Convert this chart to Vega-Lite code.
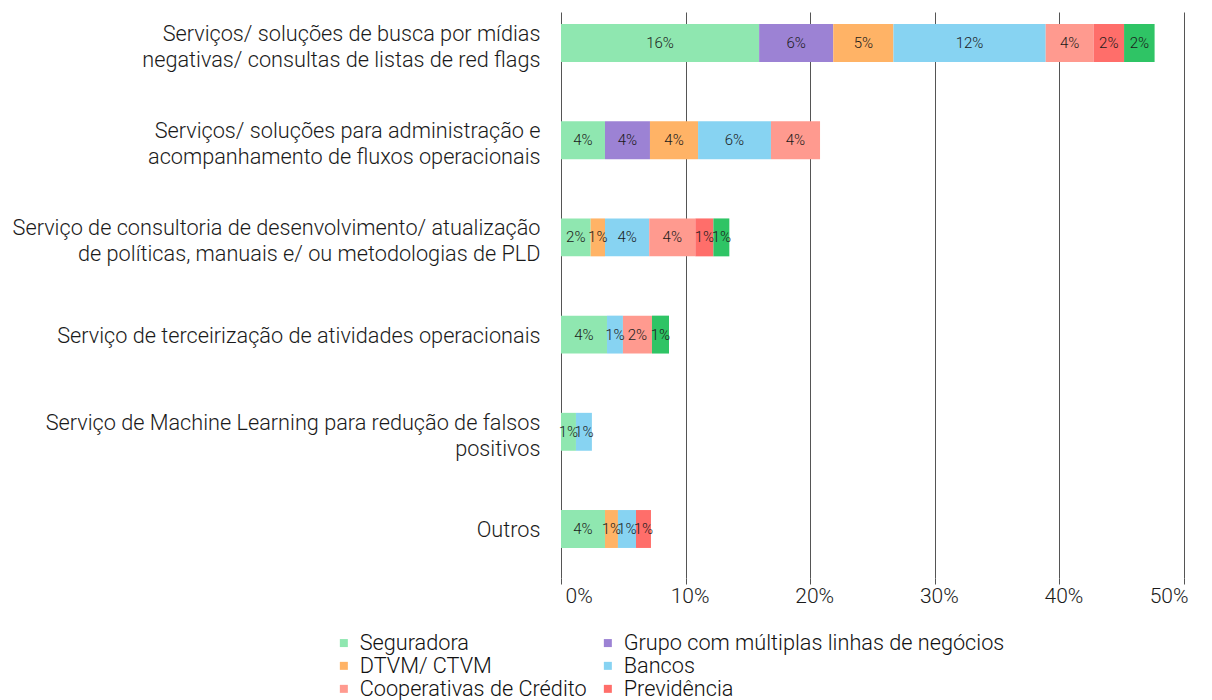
{
  "$schema": "https://vega.github.io/schema/vega-lite/v6.json",
  "width": 623,
  "height": 566,
  "autosize": {"type": "none"},
  "padding": {"left": 561, "top": 12, "right": 28, "bottom": 122},
  "background": "white",
  "config": {
    "view": {"stroke": null},
    "font": "Roboto",
    "text": {"font": "Roboto"}
  },
  "data": {
    "values": [
      {"c": "Serviços/ soluções de busca por mídias|negativas/ consultas de listas de red flags", "s": "Seguradora", "v": 0.159},
      {"c": "Serviços/ soluções de busca por mídias|negativas/ consultas de listas de red flags", "s": "Grupo com múltiplas linhas de negócios", "v": 0.0595},
      {"c": "Serviços/ soluções de busca por mídias|negativas/ consultas de listas de red flags", "s": "DTVM/ CTVM", "v": 0.0483},
      {"c": "Serviços/ soluções de busca por mídias|negativas/ consultas de listas de red flags", "s": "Bancos", "v": 0.1222},
      {"c": "Serviços/ soluções de busca por mídias|negativas/ consultas de listas de red flags", "s": "Cooperativas de Crédito", "v": 0.0384},
      {"c": "Serviços/ soluções de busca por mídias|negativas/ consultas de listas de red flags", "s": "Previdência", "v": 0.0245},
      {"c": "Serviços/ soluções de busca por mídias|negativas/ consultas de listas de red flags", "s": "Instituição de Pagamento", "v": 0.0245},
      {"c": "Serviços/ soluções para administração e|acompanhamento de fluxos operacionais", "s": "Seguradora", "v": 0.0353},
      {"c": "Serviços/ soluções para administração e|acompanhamento de fluxos operacionais", "s": "Grupo com múltiplas linhas de negócios", "v": 0.0361},
      {"c": "Serviços/ soluções para administração e|acompanhamento de fluxos operacionais", "s": "DTVM/ CTVM", "v": 0.0386},
      {"c": "Serviços/ soluções para administração e|acompanhamento de fluxos operacionais", "s": "Bancos", "v": 0.0585},
      {"c": "Serviços/ soluções para administração e|acompanhamento de fluxos operacionais", "s": "Cooperativas de Crédito", "v": 0.0394},
      {"c": "Serviço de consultoria de desenvolvimento/ atualização|de políticas, manuais e/ ou metodologias de PLD", "s": "Seguradora", "v": 0.0238},
      {"c": "Serviço de consultoria de desenvolvimento/ atualização|de políticas, manuais e/ ou metodologias de PLD", "s": "DTVM/ CTVM", "v": 0.0115},
      {"c": "Serviço de consultoria de desenvolvimento/ atualização|de políticas, manuais e/ ou metodologias de PLD", "s": "Bancos", "v": 0.0355},
      {"c": "Serviço de consultoria de desenvolvimento/ atualização|de políticas, manuais e/ ou metodologias de PLD", "s": "Cooperativas de Crédito", "v": 0.037},
      {"c": "Serviço de consultoria de desenvolvimento/ atualização|de políticas, manuais e/ ou metodologias de PLD", "s": "Previdência", "v": 0.0145},
      {"c": "Serviço de consultoria de desenvolvimento/ atualização|de políticas, manuais e/ ou metodologias de PLD", "s": "Instituição de Pagamento", "v": 0.0128},
      {"c": "Serviço de terceirização de atividades operacionais", "s": "Seguradora", "v": 0.0369},
      {"c": "Serviço de terceirização de atividades operacionais", "s": "Bancos", "v": 0.0128},
      {"c": "Serviço de terceirização de atividades operacionais", "s": "Cooperativas de Crédito", "v": 0.0233},
      {"c": "Serviço de terceirização de atividades operacionais", "s": "Instituição de Pagamento", "v": 0.0137},
      {"c": "Serviço de Machine Learning para redução de falsos|positivos", "s": "Seguradora", "v": 0.012},
      {"c": "Serviço de Machine Learning para redução de falsos|positivos", "s": "Bancos", "v": 0.0128},
      {"c": "Outros", "s": "Seguradora", "v": 0.0353},
      {"c": "Outros", "s": "DTVM/ CTVM", "v": 0.0104},
      {"c": "Outros", "s": "Bancos", "v": 0.0145},
      {"c": "Outros", "s": "Previdência", "v": 0.012}
    ]
  },
  "transform": [
    {"calculate": "indexof(['Seguradora', 'Grupo com múltiplas linhas de negócios', 'DTVM/ CTVM', 'Bancos', 'Cooperativas de Crédito', 'Previdência', 'Instituição de Pagamento'], datum.s)", "as": "o"}
  ],
  "encoding": {
    "y": {
      "field": "c",
      "type": "nominal",
      "sort": null,
      "title": null,
      "scale": {"paddingInner": 0.61, "paddingOuter": 0.2165, "align": 0.286},
      "axis": {
        "domain": false,
        "ticks": false,
        "grid": false,
        "labelExpr": "split(datum.label, '|')",
        "labelOffset": {"condition": {"test": "indexof(datum.value, '|') >= 0", "value": -9}, "value": 1},
        "labelFontSize": 21.7,
        "labelFontWeight": 300,
        "labelColor": "#1a1a1a",
        "labelPadding": 21,
        "labelLimit": 700,
        "labelLineHeight": 26
      }
    },
    "x": {
      "field": "v",
      "type": "quantitative",
      "stack": "zero",
      "title": null,
      "scale": {"domain": [0, 0.5], "nice": false},
      "axis": {
        "values": [0, 0.1, 0.2, 0.3, 0.4, 0.5],
        "format": ".0%",
        "domain": false,
        "grid": true,
        "gridColor": "#555555",
        "gridWidth": 1,
        "gridOpacity": 1,
        "ticks": true,
        "tickSize": 6,
        "tickColor": "#555555",
        "labelFontSize": 21,
        "labelFontWeight": 300,
        "labelColor": "#1a1a1a",
        "labelPadding": 1,
        "labelOffset": 4
      }
    },
    "order": {"field": "o", "type": "quantitative"},
    "color": {
      "field": "s",
      "type": "nominal",
      "scale": {
        "domain": ["Seguradora", "Grupo com múltiplas linhas de negócios", "DTVM/ CTVM", "Bancos", "Cooperativas de Crédito", "Previdência", "Instituição de Pagamento"],
        "range": ["#8fe7b0", "#9c82d4", "#ffb366", "#87d3f2", "#ff9a8f", "#ff6e6a", "#2fc465"]
      },
      "legend": {
        "title": null,
        "values": ["Seguradora", "Grupo com múltiplas linhas de negócios", "DTVM/ CTVM", "Bancos", "Cooperativas de Crédito", "Previdência"],
        "orient": "none",
        "legendX": -228,
        "legendY": 620,
        "columns": 2,
        "direction": "horizontal",
        "symbolType": "square",
        "symbolSize": 64,
        "symbolStrokeWidth": 0,
        "labelFontSize": 21.7,
        "labelFontWeight": 300,
        "labelColor": "#111111",
        "labelLimit": 500,
        "labelOffset": 5,
        "rowPadding": 0,
        "columnPadding": 10
      }
    }
  },
  "layer": [
    {"mark": {"type": "bar"}},
    {
      "mark": {"type": "text", "fontSize": 15, "fontWeight": 300, "color": "#1a1a1a"},
      "encoding": {
        "x": {"field": "v", "type": "quantitative", "stack": "zero", "bandPosition": 0.5},
        "text": {"field": "v", "type": "quantitative", "format": ".0%"},
        "color": {"value": "#1a1a1a"}
      }
    }
  ]
}
